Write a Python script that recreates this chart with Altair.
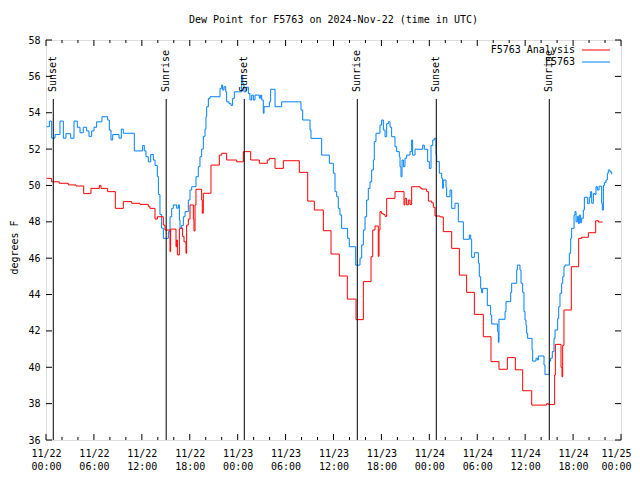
import altair as alt
import pandas as pd

START = pd.Timestamp("2024-11-22 00:00", tz="UTC")

OBS_HOURS = [0.08, 0.42, 0.71, 1.13, 1.75, 2.17, 2.5, 3.09, 3.51, 3.92, 4.26, 4.67, 5.09, 5.38, 5.72, 6.01, 6.34, 7.01, 7.72, 7.93, 8.14, 8.35, 9.14, 9.43, 9.68, 11.06, 12.1, 12.31, 12.52, 12.81, 13.11, 13.44, 13.65, 13.94, 14.07, 14.27, 14.48, 14.69, 15.32, 15.53, 15.74, 15.94, 16.36, 16.57, 16.7, 16.78, 16.99, 17.2, 17.41, 17.82, 18.03, 18.24, 18.78, 19.07, 19.28, 19.49, 19.7, 19.91, 20.03, 20.12, 20.33, 20.54, 21.79, 22.0, 22.12, 22.29, 22.5, 22.62, 22.92, 23.17, 23.37, 23.58, 24.5, 24.63, 24.79, 25.04, 25.34, 25.54, 25.75, 25.96, 26.17, 26.71, 26.88, 27.01, 27.21, 27.3, 27.97, 28.13, 28.68, 29.51, 31.93, 32.14, 33.06, 33.18, 34.52, 35.48, 35.98, 36.19, 36.4, 36.6, 36.81, 37.02, 37.77, 37.98, 38.78, 39.32, 39.53, 39.74, 39.95, 40.15, 40.36, 40.57, 40.78, 40.99, 41.11, 41.32, 41.82, 42.03, 42.24, 42.45, 42.66, 42.87, 43.08, 43.28, 43.7, 43.91, 44.24, 44.33, 44.45, 44.58, 44.75, 44.95, 45.16, 45.58, 45.79, 45.91, 46.21, 46.42, 47.17, 47.37, 47.79, 48.0, 48.21, 48.42, 48.63, 48.84, 48.92, 49.25, 49.55, 49.67, 49.75, 50.09, 50.17, 50.59, 50.8, 51.21, 51.63, 52.26, 53.01, 53.18, 53.3, 53.64, 54.14, 54.26, 54.43, 54.55, 54.68, 55.26, 55.68, 55.81, 56.56, 56.64, 56.72, 57.48, 57.6, 58.19, 58.31, 58.94, 59.02, 59.35, 59.48, 59.69, 59.85, 59.98, 60.1, 60.19, 60.31, 60.86, 60.94, 61.36, 61.52, 61.65, 62.36, 62.48, 63.03, 63.19, 63.4, 63.61, 63.74, 64.07, 64.2, 64.36, 64.57, 64.7, 64.86, 64.99, 65.53, 65.7, 65.82, 66.12, 66.24, 66.37, 66.53, 66.66, 66.78, 66.95, 67.07, 67.28, 67.41, 67.83, 68.03, 68.2, 68.33, 68.54, 68.74, 68.87, 69.04, 69.25, 69.58, 69.66, 69.79, 69.91, 70.12, 70.29, 70.41, 70.62, 70.83]
OBS_VALUES = [53.23, 53.54, 52.6, 52.8, 53.54, 52.6, 52.85, 52.6, 53.54, 53.2, 52.9, 53.2, 53.0, 52.7, 53.0, 53.2, 53.5, 53.78, 53.6, 53.05, 52.5, 52.8, 52.6, 53.1, 52.87, 51.9, 52.2, 51.9, 51.58, 51.3, 51.7, 51.4, 51.1, 50.5, 49.5, 48.4, 47.65, 47.09, 47.46, 48.28, 48.74, 48.93, 48.75, 48.93, 48.1, 47.64, 47.8, 48.28, 48.56, 49.2, 49.75, 49.93, 50.48, 51.03, 51.58, 52.0, 52.7, 53.1, 53.78, 54.33, 54.79, 54.88, 55.34, 55.52, 55.25, 55.43, 55.15, 54.6, 54.5, 54.4, 54.79, 55.15, 56.07, 55.6, 55.15, 55.4, 55.06, 54.7, 54.97, 54.7, 54.97, 54.8, 54.97, 54.7, 53.97, 54.33, 54.6, 55.29, 54.33, 54.6, 54.15, 53.6, 53.05, 52.59, 51.67, 51.22, 50.67, 49.66, 49.38, 48.74, 48.37, 47.64, 47.09, 46.63, 45.62, 46.0, 46.73, 47.55, 48.28, 49.2, 49.84, 50.2, 50.85, 51.4, 52.41, 52.87, 53.32, 53.6, 53.05, 52.68, 53.4, 53.5, 53.2, 52.68, 52.13, 51.86, 51.58, 51.03, 50.48, 51.4, 51.03, 51.5, 51.67, 51.86, 52.5, 51.67, 52.0, 51.99, 52.22, 51.99, 51.31, 50.94, 52.2, 52.5, 52.59, 51.67, 51.31, 50.67, 50.39, 49.84, 50.3, 49.9, 49.38, 49.75, 48.74, 49.02, 48.0, 47.04, 47.27, 47.04, 46.05, 46.3, 45.72, 44.98, 44.34, 44.1, 44.34, 43.39, 42.87, 42.38, 41.96, 41.37, 42.64, 43.06, 43.61, 44.12, 44.62, 45.35, 45.62, 45.35, 44.62, 44.12, 43.06, 42.6, 42.3, 41.87, 41.59, 40.95, 40.34, 40.5, 40.4, 40.62, 40.12, 39.61, 40.34, 40.5, 40.86, 41.59, 42.05, 42.69, 43.33, 44.07, 44.62, 44.98, 45.53, 45.62, 46.27, 47.09, 47.64, 48.37, 48.56, 48.0, 48.3, 47.9, 48.37, 47.95, 48.2, 48.65, 49.35, 49.0, 49.35, 49.66, 49.02, 49.55, 49.5, 49.93, 49.75, 49.96, 49.02, 48.65, 50.0, 50.15, 50.3, 50.67, 50.85, 50.75, 50.61]

ANA_HOURS = [0.08, 0.71, 1.67, 2.8, 3.76, 4.72, 5.63, 6.68, 6.89, 7.72, 8.68, 9.68, 10.73, 11.77, 12.81, 13.02, 13.65, 13.94, 14.69, 14.9, 15.53, 15.61, 16.28, 16.36, 16.45, 16.7, 16.78, 17.11, 17.28, 17.53, 17.61, 17.82, 18.03, 18.45, 18.53, 18.66, 18.78, 19.49, 19.57, 19.7, 20.66, 21.7, 22.0, 22.62, 23.88, 24.71, 25.63, 26.71, 27.71, 27.97, 28.68, 29.72, 31.72, 32.77, 33.6, 34.73, 35.69, 36.73, 37.73, 38.82, 39.74, 40.7, 40.91, 41.2, 41.61, 41.7, 41.82, 42.03, 42.24, 42.45, 42.66, 43.7, 44.83, 44.95, 45.16, 45.37, 45.58, 45.79, 46.84, 47.04, 47.67, 47.88, 48.29, 48.5, 48.71, 49.34, 49.75, 50.8, 51.76, 52.67, 53.64, 54.76, 55.72, 56.72, 57.77, 58.77, 59.69, 60.82, 62.69, 62.9, 63.69, 63.78, 64.49, 64.61, 64.7, 64.86, 65.78, 66.7, 67.07, 67.91, 68.83, 69.17, 69.71]
ANA_VALUES = [50.39, 50.2, 50.12, 50.03, 49.97, 49.55, 49.84, 50.0, 49.84, 49.66, 48.74, 49.11, 49.02, 48.96, 48.85, 48.74, 48.15, 48.28, 47.82, 47.55, 46.36, 47.6, 46.63, 47.0, 46.18, 47.6, 47.65, 47.2, 46.9, 46.27, 47.82, 48.15, 48.93, 48.15, 47.5, 48.93, 49.79, 49.2, 48.47, 49.57, 51.12, 51.67, 51.77, 51.4, 51.3, 51.86, 51.4, 51.22, 51.4, 51.49, 50.94, 51.36, 50.72, 49.14, 48.65, 47.51, 46.23, 45.02, 43.75, 42.62, 44.71, 46.08, 47.55, 47.77, 46.1, 47.55, 48.56, 48.45, 48.4, 48.3, 49.29, 49.66, 48.93, 49.29, 48.93, 49.2, 48.95, 49.93, 49.86, 49.8, 49.66, 49.14, 49.05, 48.8, 48.32, 48.27, 47.46, 46.54, 45.07, 44.12, 42.91, 41.68, 40.31, 39.89, 40.53, 39.86, 38.71, 37.92, 38.0, 37.95, 39.57, 41.26, 40.0, 39.48, 41.2, 43.15, 45.53, 47.09, 47.15, 47.4, 48.06, 47.99, 47.99]

EVENT_HOURS = [0.91, 15.05, 24.83, 38.98, 48.87, 63.02]
EVENT_LABELS = ["Sunset", "Sunrise", "Sunset", "Sunrise", "Sunset", "Sunrise"]

SERIES_NAMES = ["F5763 Analysis", "F5763"]
SERIES_COLORS = ["#ff0000", "#0080ff"]

Y_TICKS = list(range(36, 59, 2))
X_TICK_HOURS = list(range(0, 73, 2))
X_LABEL_HOURS = list(range(0, 73, 6))
X_RANGE_HOURS = [0, 72]

FONT = "DejaVu Sans Mono"
W, H = 575, 400


def iso(h):
    return (START + pd.Timedelta(hours=h)).strftime("%Y-%m-%dT%H:%M:%SZ")


def ms(h):
    return int((START + pd.Timedelta(hours=h)).timestamp() * 1000)


obs = pd.DataFrame({"time": [iso(h) for h in OBS_HOURS], "value": OBS_VALUES})
ana = pd.DataFrame({"time": [iso(h) for h in ANA_HOURS], "value": ANA_VALUES})
events = pd.DataFrame({"time": [iso(h) for h in EVENT_HOURS], "label": EVENT_LABELS})
yticks = pd.DataFrame({"value": Y_TICKS})
xt_major = pd.DataFrame({"time": [iso(h) for h in X_TICK_HOURS if h % 6 == 0]})
xt_minor = pd.DataFrame({"time": [iso(h) for h in X_TICK_HOURS if h % 6 != 0]})

xscale = alt.Scale(type="utc", domain=[ms(X_RANGE_HOURS[0]), ms(X_RANGE_HOURS[1])])
yscale = alt.Scale(domain=[36, 58], nice=False, zero=False)

last_ms = ms(X_LABEL_HOURS[-1])

XAXIS = alt.Axis(
    values=[ms(h) for h in X_LABEL_HOURS],
    labelExpr="[utcFormat(datum.value, '%m/%d'), utcFormat(datum.value, '%H:%M')]",
    title=None,
    ticks=False,
    domain=False,
    grid=False,
    labelFont=FONT,
    labelFontSize=10,
    labelColor="black",
    labelPadding=8,
    labelLineHeight=13,
    labelBaseline="top",
    labelOverlap=False,
    labelFlush=False,
    labelOffset={"condition": {"test": f"datum.value >= {last_ms}", "value": -5}, "value": 0},
)
YAXIS = alt.Axis(
    values=Y_TICKS,
    title="degrees F",
    titleFont=FONT,
    titleFontSize=10,
    titleFontWeight="normal",
    titleColor="black",
    titlePadding=8,
    titleY=207,
    ticks=False,
    domain=False,
    grid=False,
    labelFont=FONT,
    labelFontSize=10,
    labelColor="black",
    labelPadding=6,
    labelOverlap=False,
    labelFlush=False,
)

xe = alt.X("time:T", scale=xscale, axis=XAXIS)
ye = alt.Y("value:Q", scale=yscale, axis=YAXIS)

blue = alt.Chart(obs).mark_line(interpolate="step-after", color=SERIES_COLORS[1], strokeWidth=1).encode(x=xe, y=ye)
red = alt.Chart(ana).mark_line(interpolate="step-after", color=SERIES_COLORS[0], strokeWidth=1).encode(x=xe, y=ye)

ev_rules = alt.Chart(events).mark_rule(color="black", strokeWidth=1).encode(
    x=xe, y=alt.value(59), y2=alt.value(H)
)
ev_text = alt.Chart(events).mark_text(
    angle=270, align="left", baseline="middle", font=FONT, fontSize=10, color="black"
).encode(x=xe, y=alt.value(52), text="label:N")

ytl = alt.Chart(yticks).mark_rule(color="black").encode(y=ye, x=alt.value(0), x2=alt.value(6))
ytr = alt.Chart(yticks).mark_rule(color="black").encode(y=ye, x=alt.value(W - 6), x2=alt.value(W))
xtb_maj = alt.Chart(xt_major).mark_rule(color="black").encode(x=xe, y=alt.value(H - 6), y2=alt.value(H))
xtt_maj = alt.Chart(xt_major).mark_rule(color="black").encode(x=xe, y=alt.value(0), y2=alt.value(6))
xtb_min = alt.Chart(xt_minor).mark_rule(color="black").encode(x=xe, y=alt.value(H - 3), y2=alt.value(H))
xtt_min = alt.Chart(xt_minor).mark_rule(color="black").encode(x=xe, y=alt.value(0), y2=alt.value(3))

legend_layers = []
for i, (name, col) in enumerate(zip(SERIES_NAMES, SERIES_COLORS)):
    ld = pd.DataFrame({"label": [name]})
    ly = 10 + 12 * i
    legend_layers.append(
        alt.Chart(ld).mark_text(align="right", baseline="middle", font=FONT, fontSize=10, color="black").encode(
            x=alt.value(529), y=alt.value(ly), text="label:N"
        )
    )
    legend_layers.append(
        alt.Chart(ld).mark_rule(color=col, strokeWidth=1).encode(
            x=alt.value(536), x2=alt.value(564), y=alt.value(ly)
        )
    )

chart = alt.layer(
    blue, red, ev_rules, ev_text, ytl, ytr, xtb_maj, xtt_maj, xtb_min, xtt_min, *legend_layers
).properties(
    width=W,
    height=H,
    title=alt.TitleParams(
        "Dew Point for F5763 on 2024-Nov-22 (time in UTC)",
        font=FONT,
        fontSize=10,
        fontWeight="normal",
        color="black",
        anchor="middle",
        offset=10,
    ),
    autosize=alt.AutoSizeParams(type="none"),
    padding={"left": 38, "top": 32, "right": 11, "bottom": 32},
).configure_view(
    stroke="black", strokeWidth=1
).configure(background="white")

chart.save("out.html", embed_options={"renderer": "svg", "actions": False})
